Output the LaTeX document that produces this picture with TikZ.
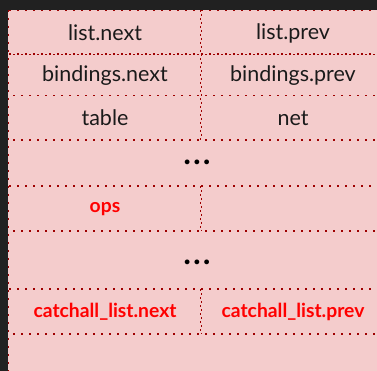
\documentclass[tikz,border=0pt]{standalone}
\usepackage{fontspec}
\setmainfont{Lato}
\newfontfamily\dotfont{DejaVu Sans}
\definecolor{bgdark}{HTML}{212121}
\definecolor{cellpink}{HTML}{F4CCCC}
\definecolor{linered}{HTML}{9E0000}
\definecolor{txtred}{HTML}{FF0000}
\definecolor{txtblack}{HTML}{1A1A1A}
\tikzset{
  sep/.style={draw=linered, line width=1.7pt, dash pattern=on 1.7pt off 6.3pt},
  lbl/.style={font=\fontsize{21.5}{25}\selectfont, text=txtblack, inner sep=0pt, anchor=center},
  redlbl/.style={font=\fontsize{19.3}{23}\selectfont\bfseries, text=txtred, inner sep=0pt, anchor=center},
  dotslbl/.style={font=\dotfont\fontsize{16.5}{18}\selectfont, text=black, inner sep=0pt, anchor=center}
}
\begin{document}
\begin{tikzpicture}[x=1pt,y=-1pt]
\useasboundingbox (0,0) rectangle (377,371);
\fill[bgdark] (0,0) rectangle (377,371);
\fill[cellpink] (8,10) rectangle (377,371);
% left and top borders
\draw[sep] (8.5,10) -- (8.5,371);
\draw[sep] (9,10.5) -- (377,10.5);
% horizontal separators
\draw[sep] (9,54) -- (377,54);
\draw[sep, dash phase=4pt] (9,54.5) -- (377,54.5);
\draw[sep] (13,95.5) -- (377,95.5);
\draw[sep] (13,140) -- (377,140);
\draw[sep] (9,186) -- (377,186);
\draw[sep] (13,231) -- (377,231);
\draw[sep] (9,289) -- (377,289);
\draw[sep] (13,334) -- (377,334);
% vertical separators
\draw[sep] (200.5,10) -- (200.5,140);
\draw[sep, dash phase=4pt] (201.5,10) -- (201.5,140);
\draw[sep] (200.5,186) -- (200.5,231);
\draw[sep, dash phase=4pt] (201.5,186) -- (201.5,231);
\draw[sep] (200.5,289) -- (200.5,334);
\draw[sep, dash phase=4pt] (201.5,289) -- (201.5,334);
% labels
\node[lbl] (ln) at (105,33) {list.next};
\node[lbl] (lp) at (293,33) {list.prev};
\node[lbl] (bn) at (105,76) {bindings.next};
\node[lbl] (bp) at (293,76) {bindings.prev};
\node[lbl] (tb) at (105,118) {table};
\node[lbl] (nt) at (293,118) {net};
\node[dotslbl] (d1) at (197,164.5) {•••};
\node[redlbl] (ops) at (105,209) {ops};
\node[dotslbl] (d2) at (197,264.5) {•••};
\node[redlbl] (cn) at (105,312) {catchall\_list.next};
\node[redlbl] (cp) at (293,312) {catchall\_list.prev};
\end{tikzpicture}
\end{document}
